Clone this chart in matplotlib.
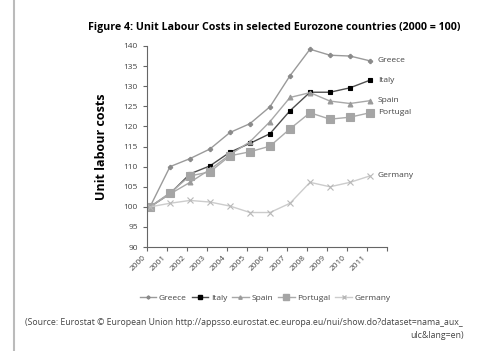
import numpy as np
import matplotlib
matplotlib.use('Agg')
import matplotlib.pyplot as plt
from matplotlib.lines import Line2D

years = ['2000', '2001', '2002', '2003', '2004', '2005', '2006', '2007', '2008', '2009', '2010', '2011']
greece = [100, 110.0, 112.0, 114.4, 118.5, 120.7, 124.9, 132.6, 139.2, 137.7, 137.5, 136.3]
italy = [100, 103.3, 108.2, 110.2, 113.6, 115.8, 118.2, 123.9, 128.5, 128.5, 129.6, 131.5]
spain = [100, 103.2, 106.1, 109.3, 113.0, 116.2, 121.2, 127.2, 128.4, 126.3, 125.7, 126.4]
portugal = [100, 103.5, 107.7, 108.7, 112.7, 113.7, 115.1, 119.4, 123.4, 121.8, 122.3, 123.4]
germany = [100, 100.9, 101.6, 101.2, 100.2, 98.6, 98.6, 100.9, 106.1, 105.0, 106.1, 107.7]

series = [
    ('Greece', greece, '#9a9a9a', 'P', 3, '#8a8a8a'),
    ('Italy', italy, '#505050', 's', 3.5, '#000000'),
    ('Spain', spain, '#a8a8a8', '^', 3.5, '#9a9a9a'),
    ('Portugal', portugal, '#aaaaaa', 's', 5.5, '#a5a5a5'),
    ('Germany', germany, '#cccccc', 'x', 4, '#b8b8b8'),
]

plt.rcParams['font.family'] = ['Open Sans', 'DejaVu Sans']

fig = plt.figure(figsize=(5, 3.51), dpi=100)
ax = fig.add_axes([0.294, 0.296, 0.48, 0.573])

x = np.arange(len(years))
for name, vals, col, mk, ms, mcol in series:
    ax.plot(x, vals, color=col, lw=1, marker=mk, ms=ms, mfc=mcol, mec=mcol, mew=0.8)
    # etiquetas al final de cada linea
    ax.text(x[-1] + 0.4, vals[-1], name, fontsize=6, color='#444444', va='center')

ax.set_ylim(90, 140)
ax.set_yticks(np.arange(90, 141, 5))
ax.set_xlim(-0.15, 11.85)
ax.set_xticks(np.arange(13) - 0.15)
ax.set_xticklabels(years + [''], rotation=45, ha='right', fontsize=6, color='#444444')
ax.tick_params(axis='y', labelsize=6, labelcolor='#444444', length=3, color='#666666', width=0.8)
ax.tick_params(axis='x', length=3, color='#666666', width=0.8, pad=2)
for s in ['top', 'right']:
    ax.spines[s].set_visible(False)
for s in ['left', 'bottom']:
    ax.spines[s].set_color('#666666')
    ax.spines[s].set_linewidth(0.8)

ax.set_ylabel('Unit labour costs', fontsize=9, fontweight='bold', labelpad=11)

fig.text(0.548, 0.922, 'Figure 4: Unit Labour Costs in selected Eurozone countries (2000 = 100)',
         ha='center', va='center', fontsize=7.7, fontweight='bold')

handles = [Line2D([0], [0], color=col, lw=1, marker=mk, ms=ms * 0.7, mfc=mcol, mec=mcol)
           for name, vals, col, mk, ms, mcol in series]
fig.legend(handles, [s[0] for s in series], loc='center', bbox_to_anchor=(0.53, 0.152),
           ncol=5, frameon=False, fontsize=6, handlelength=2, columnspacing=0.6,
           handletextpad=0.3, labelcolor='#444444')

fig.text(0.05, 0.082, '(Source: Eurostat \u00a9 European Union http://appsso.eurostat.ec.europa.eu/nui/show.do?dataset=nama_aux_',
         fontsize=6.3, color='#444444', va='center')
fig.text(0.927, 0.043, 'ulc&lang=en)', fontsize=6.3, color='#444444', va='center', ha='right')

fig.add_artist(Line2D([0.028, 0.028], [0, 1], color='#bbbbbb', lw=1.5))

fig.savefig('out.png', dpi=100)
